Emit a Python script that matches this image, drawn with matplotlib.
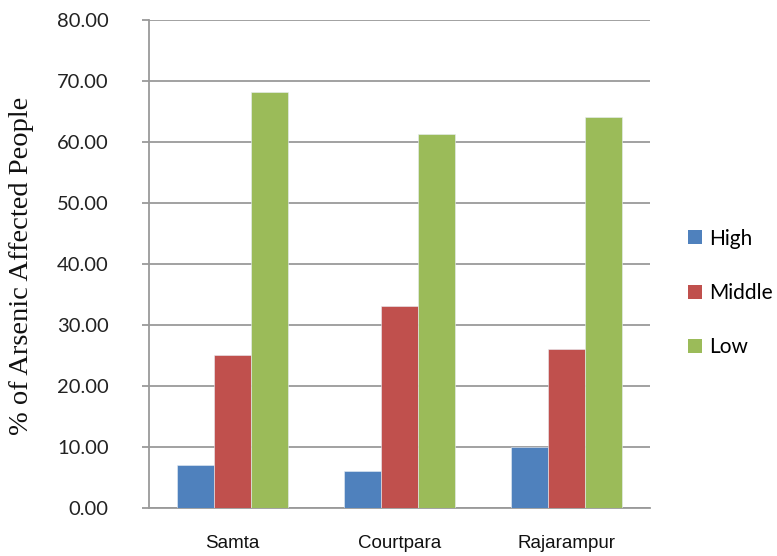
import matplotlib
matplotlib.use("Agg")
import matplotlib.pyplot as plt
import numpy as np
from matplotlib.patches import Patch

categories = ["Samta", "Courtpara", "Rajarampur"]
series_names = ["High", "Middle", "Low"]
high = [7.0, 6.0, 10.0]
middle = [25.0, 33.0, 26.0]
low = [68.1, 61.2, 64.1]
colors = ["#4F81BD", "#C0504D", "#9BBB59"]
yticks = [0, 10, 20, 30, 40, 50, 60, 70, 80]

fig = plt.figure(figsize=(7.77, 5.56), dpi=100)
ax = fig.add_axes([149/777, 1 - 507.7/556, (650-149)/777, (507.7-19.7)/556])

x = np.arange(len(categories))
w = 1/4.5
for i, (vals, c) in enumerate(zip([high, middle, low], colors)):
    ax.bar(x + (i - 1) * w, vals, width=w, color=c, edgecolor="#e8eef5", linewidth=0.4, zorder=3)

ax.set_xlim(-0.5, 2.5)
ax.set_ylim(0, 80)
ax.set_yticks(yticks)
ax.set_yticklabels([f"{v:.2f}" for v in yticks], fontfamily="Lato", fontsize=14.5, color="#222222")
ax.set_xticks(x)
ax.set_xticklabels(categories, fontfamily="Liberation Sans", fontsize=13.5, color="#111111")
ax.tick_params(axis="x", length=0, pad=20)
ax.tick_params(axis="y", length=5, color="#9a9a9a", width=1.3, pad=24)

ax.yaxis.grid(True, color="#9a9a9a", linewidth=1.3, zorder=0)
ax.set_axisbelow(True)
for s in ["top", "right"]:
    ax.spines[s].set_visible(False)
ax.spines["left"].set_color("#9a9a9a")
ax.spines["left"].set_linewidth(1.3)
ax.spines["bottom"].set_color("#9a9a9a")
ax.spines["bottom"].set_linewidth(1.3)

fig.text(22/777, 1 - 266/556, "% of Arsenic Affected People", rotation=90,
         ha="center", va="center", fontfamily="Liberation Serif", fontsize=20.5, color="#111111")

handles = [Patch(facecolor=c, edgecolor="none") for c in colors]
leg = fig.legend(handles, series_names, loc="center left", bbox_to_anchor=(688/777, 1 - 293/556),
                 frameon=False, prop={"family": "Lato", "size": 15}, handlelength=0.65,
                 handleheight=0.65, handletextpad=0.35, labelspacing=1.65, borderaxespad=0,
                 borderpad=0)

fig.savefig("out.png", dpi=100)
